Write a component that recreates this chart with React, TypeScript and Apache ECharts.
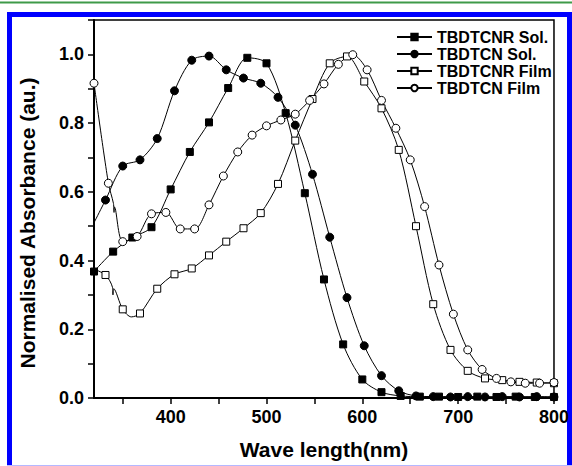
import React, { useEffect, useRef } from "react";
import * as echarts from "echarts";

// ---- Data ----
const seriesNames = ["TBDTCNR Sol.", "TBDTCN Sol.", "TBDTCNR Film", "TBDTCN Film"];

const cnrSolWl = [320, 340, 360, 380, 400, 420, 440, 460, 480, 500, 520, 540, 560, 580, 600, 620, 640, 660, 680, 700, 720, 740, 760, 780, 800];
const cnrSolAbs = [0.368, 0.426, 0.467, 0.497, 0.607, 0.716, 0.802, 0.902, 0.99, 0.974, 0.829, 0.596, 0.345, 0.156, 0.054, 0.017, 0.006, 0.004, 0.004, 0.003, 0.004, 0.003, 0.004, 0.003, 0.003];
const cnrSolHidden: number[][] = [];

const cnSolWl = [332, 350, 368, 386, 404, 422, 440, 458, 476, 494, 512, 530, 548, 566, 584, 602, 620, 638, 656, 674, 692, 710, 728, 746, 764, 782, 800];
const cnSolAbs = [0.576, 0.675, 0.693, 0.755, 0.894, 0.983, 0.995, 0.955, 0.931, 0.916, 0.875, 0.794, 0.651, 0.468, 0.292, 0.152, 0.065, 0.021, 0.006, 0.004, 0.003, 0.004, 0.003, 0.004, 0.003, 0.004, 0.003];
const cnSolHidden = [[314, 0.477]];

const cnrFilmWl = [332, 350, 368, 386, 404, 422, 440, 458, 476, 494, 512, 530, 548, 566, 584, 602, 620, 638, 656, 674, 692, 710, 728, 746, 764, 782, 800];
const cnrFilmAbs = [0.358, 0.258, 0.246, 0.318, 0.36, 0.377, 0.415, 0.455, 0.494, 0.538, 0.623, 0.749, 0.87, 0.974, 0.994, 0.921, 0.843, 0.722, 0.5, 0.273, 0.14, 0.079, 0.057, 0.052, 0.047, 0.045, 0.043];
const cnrFilmHidden = [[320, 0.375], [339.3, 0.322], [339.8, 0.3], [340.5, 0.318], [359, 0.236]];

const cnFilmWl = [320, 335, 350, 365, 380, 395, 410, 425, 440, 455, 470, 485, 500, 515, 530, 545, 560, 575, 590, 605, 620, 635, 650, 665, 680, 695, 710, 725, 740, 755, 770, 785, 800];
const cnFilmAbs = [0.916, 0.625, 0.455, 0.47, 0.536, 0.54, 0.492, 0.492, 0.562, 0.646, 0.716, 0.765, 0.792, 0.809, 0.826, 0.866, 0.914, 0.971, 0.999, 0.955, 0.866, 0.785, 0.693, 0.557, 0.387, 0.244, 0.14, 0.083, 0.057, 0.047, 0.043, 0.043, 0.045];
const cnFilmHidden = [[340.3, 0.566], [340.9, 0.54], [341.3, 0.556]];

const xLabelValues = [400, 500, 600, 700, 800];
const xTickValues = [350, 400, 450, 500, 550, 600, 650, 700, 750, 800];

const FONT = "'Liberation Sans', Arial, Helvetica, sans-serif";

function buildData(wl: number[], ab: number[], hidden: number[][]) {
  const pts: any[] = wl.map((x, i) => ({ value: [x, ab[i]] }));
  const hid: any[] = hidden.map((p) => ({ value: p, symbol: "none" }));
  return pts.concat(hid).sort((a, b) => a.value[0] - b.value[0]);
}

function makeSeries(name: string, data: any[], symbol: string, filled: boolean, size: number) {
  return {
    name,
    type: "line",
    data,
    smooth: 0.3,
    symbol,
    symbolSize: size,
    showSymbol: true,
    clip: true,
    lineStyle: { color: "#000", width: 1 },
    itemStyle: { color: filled ? "#000" : "#fff", borderColor: "#000", borderWidth: 1 },
    emphasis: { disabled: true },
  };
}

export default function App() {
  const ref = useRef<HTMLDivElement>(null);
  useEffect(() => {
    if (!ref.current) return;
    const chart = echarts.init(ref.current, undefined, { renderer: "svg" });
    const option: any = {
      animation: false,
      backgroundColor: "#fff",
      grid: { left: 94, top: 20, right: 17, bottom: 68, show: true, borderColor: "#000", borderWidth: 1.5 },
      legend: {
        data: seriesNames,
        orient: "vertical",
        left: 391,
        top: 24,
        itemWidth: 35,
        itemHeight: 8,
        itemGap: 1,
        textStyle: { fontSize: 16, fontWeight: "bold", color: "#000", fontFamily: FONT },
      },
      xAxis: {
        type: "value",
        min: 320,
        max: 800,
        name: "Wave length(nm)",
        nameLocation: "middle",
        nameGap: 41,
        nameTextStyle: { fontSize: 21, fontWeight: "bold", color: "#000", fontFamily: FONT },
        axisLine: { show: true, lineStyle: { color: "#000", width: 2 } },
        axisTick: { show: true, inside: false, length: 6, lineStyle: { color: "#000", width: 1.5 }, customValues: xTickValues },
        axisLabel: { show: true, margin: 10, fontSize: 18, fontWeight: "bold", color: "#000", fontFamily: FONT, customValues: xLabelValues },
        splitLine: { show: false },
      },
      yAxis: {
        type: "value",
        min: 0,
        max: 1.1,
        interval: 0.1,
        axisLine: { show: true, lineStyle: { color: "#000", width: 2 } },
        axisTick: { show: true, inside: false, length: 6, lineStyle: { color: "#000", width: 1.5 } },
        axisLabel: {
          show: true,
          margin: 10,
          fontSize: 18,
          fontWeight: "bold",
          color: "#000",
          fontFamily: FONT,
          formatter: (v: number) => {
            const k = Math.round(v * 10);
            return k % 2 === 0 && k <= 10 ? (k / 10).toFixed(1) : "";
          },
        },
        splitLine: { show: false },
      },
      graphic: [
        { type: "line", shape: { x1: 0, y1: 2.5, x2: 572, y2: 2.5 }, style: { stroke: "#3f9a48", lineWidth: 2 }, silent: true },
        {
          type: "polyline",
          shape: { points: [[9.5, 466], [9.5, 14.5], [569.5, 14.5], [569.5, 466]] },
          style: { stroke: "#0000ff", lineWidth: 5, fill: null },
          silent: true,
        },
        { type: "line", shape: { x1: 7, y1: 465.5, x2: 572, y2: 465.5 }, style: { stroke: "#b4b8ff", lineWidth: 1 }, silent: true },
        {
          type: "text",
          x: 27,
          y: 223,
          rotation: Math.PI / 2,
          style: {
            text: "Normalised Absorbance (au.)",
            fontSize: 21,
            fontWeight: "bold",
            fontFamily: FONT,
            fill: "#000",
            align: "center",
            verticalAlign: "middle",
          },
          silent: true,
        },
      ],
      series: [
        makeSeries(seriesNames[0], buildData(cnrSolWl, cnrSolAbs, cnrSolHidden), "rect", true, 7),
        makeSeries(seriesNames[1], buildData(cnSolWl, cnSolAbs, cnSolHidden), "circle", true, 8),
        makeSeries(seriesNames[2], buildData(cnrFilmWl, cnrFilmAbs, cnrFilmHidden), "rect", false, 7),
        makeSeries(seriesNames[3], buildData(cnFilmWl, cnFilmAbs, cnFilmHidden), "circle", false, 8),
      ],
    };
    chart.setOption(option);
    return () => chart.dispose();
  }, []);
  return <div ref={ref} style={{ position: "absolute", left: 0, top: 0, width: 572, height: 466 }} />;
}
